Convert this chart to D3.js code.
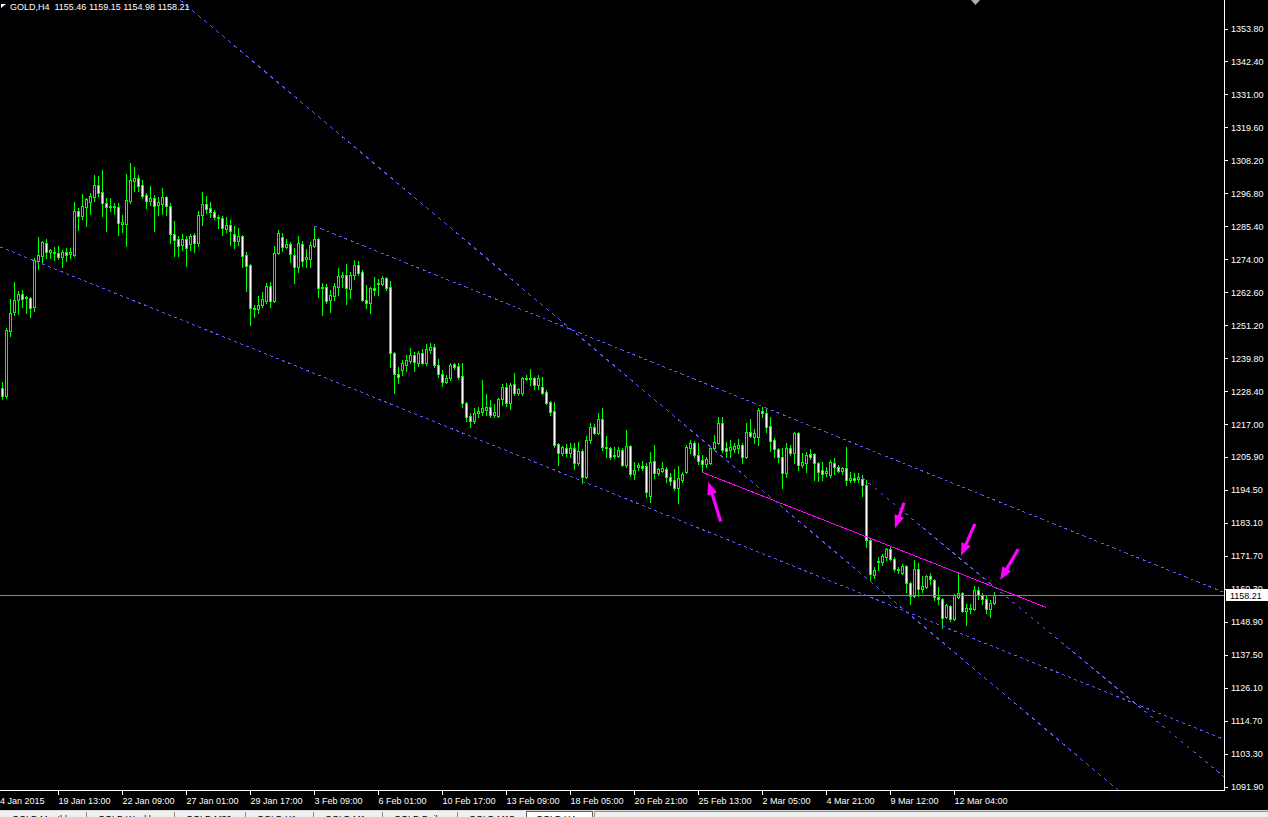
<!DOCTYPE html>
<html><head><meta charset="utf-8">
<script src="https://cdn.jsdelivr.net/npm/d3@7"></script>
<style>
html,body{margin:0;padding:0;background:#000;overflow:hidden}
svg{display:block}
text{font-family:"Liberation Sans",Arial,sans-serif;font-size:9px}
</style></head><body>
<svg id="c" width="1268" height="817"></svg>
<script>
const symbolName = "GOLD,H4";
const open = [1229.8,1227.0,1249.4,1256.0,1260.2,1262.2,1260.9,1260.9,1257.7,1273.6,
1275.4,1279.8,1276.7,1276.7,1276.4,1275.0,1276.7,1276.1,1275.7,1290.9,
1289.2,1292.3,1294.0,1295.8,1299.9,1297.5,1293.7,1292.3,1292.6,1292.3,
1286.4,1286.4,1294.4,1301.3,1302.3,1299.9,1296.4,1294.4,1295.4,1293.0,
1293.3,1295.8,1292.6,1283.0,1281.2,1279.2,1281.2,1279.5,1282.6,1279.9,
1289.5,1293.3,1291.9,1290.5,1288.8,1288.5,1284.7,1286.1,1283.0,1280.5,
1282.3,1275.7,1272.3,1257.4,1257.0,1258.5,1259.8,1265.0,1259.8,1276.4,
1281.9,1278.5,1279.5,1275.7,1271.6,1279.5,1274.3,1274.3,1278.8,1281.2,
1264.3,1264.7,1260.2,1261.5,1264.7,1268.1,1268.8,1264.0,1268.8,1272.3,
1269.8,1260.2,1259.1,1264.3,1265.7,1265.7,1267.8,1264.7,1241.8,1234.6,
1236.0,1237.7,1239.1,1241.2,1238.4,1241.8,1238.4,1242.9,1243.9,1237.7,
1234.6,1231.8,1233.2,1238.0,1237.4,1233.9,1224.6,1220.1,1218.3,1221.1,
1221.5,1222.2,1223.2,1220.4,1220.1,1226.0,1230.1,1224.6,1231.1,1228.0,
1228.0,1233.2,1232.9,1233.2,1230.8,1230.1,1228.4,1224.9,1221.8,1210.4,
1207.3,1209.0,1207.3,1209.0,1203.8,1208.0,1199.0,1211.8,1216.3,1214.2,
1219.0,1209.4,1209.0,1206.3,1206.3,1208.3,1203.1,1209.7,1200.0,1202.5,
1202.8,1202.8,1192.4,1204.5,1200.4,1201.1,1201.8,1199.0,1198.0,1195.2,
1198.0,1200.7,1209.0,1210.8,1206.6,1204.9,1203.5,1203.8,1209.0,1210.8,
1217.7,1209.0,1208.3,1208.7,1209.0,1210.1,1205.9,1214.5,1212.8,1212.8,
1221.8,1221.1,1216.6,1211.8,1208.7,1205.9,1200.4,1209.0,1207.3,1214.2,
1203.1,1203.8,1206.9,1206.9,1203.8,1201.4,1200.4,1199.7,1203.8,1202.5,
1201.1,1202.1,1198.0,1198.7,1198.3,1198.3,1196.2,1177.2,1165.1,1169.6,
1169.6,1171.4,1174.1,1170.7,1167.2,1165.8,1168.2,1162.4,1157.9,1167.2,
1160.3,1161.0,1164.8,1163.4,1157.5,1156.8,1150.6,1154.4,1149.9,1157.5,
1158.9,1152.7,1153.7,1153.4,1160.0,1158.2,1156.8,1153.4,1155.46];
const high = [1231.8,1250.5,1260.5,1266.4,1263.3,1263.6,1261.6,1261.2,1274.7,1281.9,
1280.5,1281.2,1277.8,1278.5,1278.8,1277.4,1278.1,1278.1,1294.0,1291.9,
1296.8,1295.4,1297.1,1303.4,1303.0,1305.1,1295.4,1295.4,1293.7,1293.7,
1289.5,1303.7,1307.5,1306.1,1303.4,1301.6,1297.1,1299.5,1296.4,1295.8,
1298.9,1296.1,1293.7,1287.5,1282.3,1283.0,1282.3,1283.0,1283.3,1290.9,
1297.5,1296.1,1294.0,1291.3,1289.5,1289.2,1288.8,1287.8,1285.7,1285.0,
1282.6,1276.7,1272.6,1258.5,1261.6,1262.9,1266.0,1266.4,1278.8,1284.4,
1283.3,1281.2,1280.2,1278.1,1282.3,1280.5,1277.8,1280.2,1285.7,1281.6,
1266.0,1265.7,1263.6,1266.0,1271.2,1269.8,1272.6,1269.8,1274.0,1273.6,
1270.5,1265.3,1264.7,1268.1,1267.4,1268.5,1268.1,1266.7,1242.2,1237.0,
1239.4,1241.2,1243.6,1242.2,1242.5,1243.2,1244.9,1245.3,1244.9,1239.8,
1236.0,1234.2,1238.4,1238.4,1238.4,1238.4,1224.9,1221.1,1222.8,1223.2,
1232.5,1227.7,1225.6,1224.2,1226.3,1231.1,1231.5,1231.5,1234.9,1229.8,
1233.6,1234.2,1236.3,1233.6,1234.2,1233.6,1229.1,1225.3,1224.9,1210.8,
1209.7,1210.4,1210.8,1210.8,1211.1,1208.7,1213.2,1217.7,1217.3,1221.1,
1222.8,1213.2,1209.4,1209.4,1209.4,1209.0,1215.2,1210.1,1204.2,1203.8,
1204.5,1203.8,1207.7,1210.1,1202.1,1204.2,1202.5,1200.4,1201.8,1202.8,
1200.7,1210.1,1211.8,1211.4,1210.8,1206.6,1205.9,1209.4,1213.5,1219.7,
1219.7,1211.1,1211.8,1210.8,1212.1,1210.8,1217.7,1219.0,1215.6,1222.8,
1223.2,1222.5,1219.7,1212.5,1209.0,1209.0,1210.8,1210.1,1214.5,1214.5,
1207.3,1207.6,1208.7,1207.3,1204.2,1204.2,1202.5,1204.9,1205.6,1203.1,
1202.5,1209.4,1200.7,1200.4,1200.4,1199.7,1198.0,1177.6,1167.9,1171.4,
1172.4,1174.5,1175.2,1171.4,1167.9,1168.9,1168.6,1162.7,1170.3,1169.3,
1164.8,1165.1,1165.8,1163.8,1161.0,1157.2,1155.1,1154.8,1158.6,1165.8,
1159.3,1155.1,1155.1,1161.3,1161.0,1158.9,1157.9,1156.5,1159.15];
const low = [1226.0,1226.3,1247.7,1255.0,1255.3,1257.7,1255.7,1254.3,1256.4,1270.9,
1273.3,1274.7,1274.7,1274.0,1274.3,1271.6,1273.6,1274.7,1275.4,1284.4,
1288.1,1285.7,1289.9,1294.4,1296.1,1289.2,1284.0,1290.9,1289.9,1282.6,
1283.7,1278.8,1293.7,1297.8,1297.8,1295.4,1291.9,1293.0,1284.0,1289.5,
1289.9,1289.5,1279.9,1275.4,1275.4,1277.4,1271.9,1277.4,1276.7,1278.8,
1286.1,1290.2,1288.8,1288.1,1285.0,1282.6,1283.7,1279.2,1278.1,1279.2,
1271.6,1263.3,1251.5,1254.3,1255.7,1257.7,1259.1,1257.7,1259.5,1276.1,
1277.1,1278.1,1273.3,1266.0,1269.8,1271.9,1271.6,1271.6,1278.5,1261.2,
1255.0,1259.1,1256.0,1260.2,1261.9,1264.7,1258.8,1260.9,1267.4,1268.8,
1259.8,1257.4,1255.7,1261.9,1261.9,1265.3,1263.6,1237.0,1228.0,1231.5,
1234.2,1235.6,1238.4,1235.6,1237.4,1238.0,1237.7,1241.8,1237.0,1233.6,
1230.4,1231.5,1232.5,1236.3,1232.9,1223.2,1218.3,1216.3,1217.7,1219.7,
1220.4,1220.4,1219.7,1219.7,1219.7,1223.9,1223.5,1222.5,1227.3,1227.3,
1227.3,1232.5,1230.8,1229.4,1229.4,1227.7,1224.2,1220.4,1209.4,1203.1,
1206.6,1206.3,1205.9,1201.8,1203.1,1196.9,1198.7,1210.7,1213.9,1213.9,
1208.3,1205.9,1205.2,1205.6,1205.9,1202.8,1202.5,1199.3,1198.3,1201.4,
1201.4,1192.1,1190.4,1198.7,1199.7,1200.7,1197.3,1196.2,1194.5,1190.0,
1197.3,1200.4,1207.3,1205.9,1203.5,1200.7,1202.5,1203.5,1208.3,1210.4,
1207.6,1205.9,1205.9,1207.6,1207.3,1203.8,1205.6,1212.8,1210.8,1210.1,
1219.7,1214.5,1208.0,1205.9,1204.2,1195.2,1199.0,1206.6,1203.8,1201.4,
1202.5,1200.7,1205.2,1198.0,1197.6,1198.0,1199.3,1199.0,1200.0,1200.7,
1200.0,1196.2,1197.3,1197.3,1197.3,1192.4,1174.8,1163.4,1164.1,1166.9,
1168.6,1170.3,1170.3,1166.5,1165.8,1165.5,1159.3,1155.1,1157.5,1157.9,
1159.3,1160.6,1162.0,1156.5,1155.1,1146.8,1150.3,1149.2,1149.6,1157.2,
1152.3,1147.9,1152.0,1153.0,1156.8,1155.1,1152.0,1150.6,1154.98];
const close = [1227.0,1249.8,1255.7,1260.2,1262.2,1260.5,1261.2,1257.4,1274.0,1275.7,
1280.2,1276.7,1277.4,1276.4,1275.0,1276.7,1275.7,1276.7,1290.9,1289.2,
1292.6,1295.1,1296.1,1299.9,1297.1,1293.7,1292.3,1292.6,1292.3,1286.8,
1287.1,1294.7,1301.6,1302.3,1299.5,1296.1,1294.4,1295.4,1292.6,1294.0,
1295.8,1292.6,1283.0,1280.9,1278.8,1281.2,1278.1,1282.3,1279.9,1289.5,
1293.3,1291.6,1290.5,1288.8,1288.5,1285.0,1286.1,1284.0,1280.5,1282.3,
1275.4,1271.9,1257.4,1257.0,1258.5,1260.5,1265.0,1259.8,1276.4,1283.3,
1278.5,1279.5,1276.1,1271.6,1279.9,1273.6,1275.0,1279.2,1281.2,1264.3,
1264.7,1259.8,1261.9,1265.0,1268.5,1268.8,1264.3,1268.8,1272.3,1269.5,
1260.2,1259.1,1264.3,1263.6,1266.0,1267.8,1264.3,1241.8,1234.6,1233.6,
1238.4,1239.4,1241.2,1238.7,1241.8,1238.4,1243.2,1243.9,1237.7,1234.6,
1231.8,1233.2,1237.7,1237.0,1233.6,1224.6,1219.7,1218.3,1221.1,1221.8,
1222.8,1223.2,1220.4,1221.5,1226.0,1230.1,1224.6,1230.8,1228.0,1229.4,
1233.2,1232.9,1233.2,1230.8,1233.2,1228.0,1224.6,1221.5,1210.1,1207.3,
1209.4,1207.3,1209.0,1203.8,1208.0,1199.0,1211.8,1216.3,1214.2,1219.0,
1209.4,1209.0,1205.9,1206.6,1208.3,1203.1,1209.7,1200.0,1201.4,1203.1,
1202.1,1193.8,1204.2,1200.4,1201.8,1202.1,1199.0,1197.6,1195.2,1198.7,
1200.0,1209.4,1210.8,1206.6,1204.5,1203.5,1205.2,1209.0,1211.1,1217.7,
1208.3,1208.0,1209.4,1209.7,1210.1,1205.9,1214.5,1213.2,1214.2,1222.2,
1221.1,1216.3,1211.4,1208.7,1205.9,1200.4,1209.0,1207.3,1214.2,1203.1,
1204.2,1206.6,1205.9,1203.8,1200.7,1200.0,1201.1,1204.2,1202.5,1201.1,
1202.1,1198.0,1198.7,1198.0,1199.0,1196.2,1177.2,1165.5,1166.9,1170.0,
1171.7,1174.1,1170.7,1167.2,1166.9,1168.2,1162.4,1157.9,1167.2,1160.3,
1161.3,1164.8,1163.8,1157.5,1156.8,1150.3,1154.8,1149.9,1158.2,1158.9,
1152.7,1153.7,1153.4,1160.0,1158.2,1156.8,1153.4,1155.5,1158.21];

const priceTicks = [1353.8,1342.4,1331.0,1319.6,1308.2,1296.8,1285.4,1274.0,1262.6,1251.2,1239.8,1228.4,
1217.0,1205.9,1194.5,1183.1,1171.7,1160.3,1148.9,1137.5,1126.1,1114.7,1103.3,1091.9];
const timeTickIndex = [14,30,46,62,78,94,110,126,142,158,174,190,206,222,238];
const timeTickLabels = ["19 Jan 13:00","22 Jan 09:00","27 Jan 01:00","29 Jan 17:00","3 Feb 09:00","6 Feb 01:00",
"10 Feb 17:00","13 Feb 09:00","18 Feb 05:00","20 Feb 21:00","25 Feb 13:00","2 Mar 05:00","4 Mar 21:00","9 Mar 12:00","12 Mar 04:00"];
const firstDateLabel = "4 Jan 2015";

// trend lines: [barIndex, price] anchor pairs (rays to the right)
const rayA = [[44.4,1363.8],[278.9,1090.8]];
const rayB = [[78,1285.7],[304.9,1159.4]];
const rayC = [[-0.6,1278.5],[304.9,1108.6]];
const rayE = [[215,1198.7],[304.9,1096.0]];
const magentaSegment = [[175,1200.6],[260.8,1154.0]];
// arrows: [tail, tip]
const arrows = [
  [[179.55,1183.6],[176.45,1197.4]],
  [[225.4,1190.1],[223.1,1181.3]],
  [[243.1,1182.8],[239.6,1171.7]],
  [[253.95,1174.1],[249.4,1163.4]]
];
const tabNames = ["GOLD,Monthly","GOLD,Weekly","GOLD,M30","GOLD,H1","GOLD,M1","GOLD,Daily","GOLD,M15","GOLD,H4"];

const W = 1268, H = 817, plotR = 1224, plotB = 790;
const svg = d3.select("#c");
svg.append("rect").attr("width", W).attr("height", H).attr("fill", "#000");

const x = d3.scaleLinear().domain([0, 305.5]).range([2.5, 1224.5]);
const y = d3.scaleLinear().domain([1091.9, 1353.8]).range([787, 29]);

svg.append("defs").append("clipPath").attr("id", "clip")
  .append("rect").attr("x", 0).attr("y", 0).attr("width", plotR).attr("height", plotB);
const plot = svg.append("g").attr("clip-path", "url(#clip)");

// candles
const bars = open.map((o, i) => ({ i, o, h: high[i], l: low[i], c: close[i] }));
const cg = plot.append("g").attr("shape-rendering", "crispEdges")
  .selectAll("g").data(bars).join("g");
const cx = d => Math.floor(x(d.i));
const bTop = d => Math.round(y(Math.max(d.o, d.c)));
const bBot = d => Math.round(y(Math.min(d.o, d.c)));
cg.append("rect").attr("x", cx).attr("width", 1)
  .attr("y", d => Math.round(y(d.h)))
  .attr("height", d => Math.round(y(d.l)) - Math.round(y(d.h)) + 1)
  .attr("fill", "#00ff00");
cg.append("rect").attr("x", d => cx(d) - 1).attr("width", 3)
  .attr("y", bTop).attr("height", d => bBot(d) - bTop(d) + 1)
  .attr("fill", "#00ff00");
cg.filter(d => bBot(d) - bTop(d) + 1 >= 3).append("rect")
  .attr("x", cx).attr("width", 1)
  .attr("y", d => bTop(d) + 1).attr("height", d => bBot(d) - bTop(d) - 1)
  .attr("fill", d => d.c >= d.o ? "#000000" : "#ffffff");

// trend rays
function drawRay(pts, color) {
  const [p1, p2] = pts;
  const slope = (p2[1] - p1[1]) / (p2[0] - p1[0]);
  const iEnd = 306;
  const x1 = x(p1[0]), y1 = y(p1[1]), x2 = x(iEnd), y2 = y(p1[1] + slope * (iEnd - p1[0]));
  const s = (y2 - y1) / (x2 - x1);
  const d = 3 * Math.sqrt(1 + s * s);
  plot.append("line").attr("x1", x1).attr("y1", y1).attr("x2", x2).attr("y2", y2)
    .attr("stroke", color).attr("stroke-width", 1).attr("stroke-dasharray", d + "," + d)
    .attr("shape-rendering", "crispEdges");
}
[rayA, rayB, rayC, rayE].forEach(r => drawRay(r, "#5b5bf0"));

// bid line
const last = close[close.length - 1];
const bidY = Math.round(y(last)) + 0.5;
plot.append("line").attr("x1", 0).attr("x2", plotR).attr("y1", bidY).attr("y2", bidY)
  .attr("stroke", "#778899").attr("stroke-width", 1);

// magenta segment
plot.append("line")
  .attr("x1", x(magentaSegment[0][0])).attr("y1", y(magentaSegment[0][1]))
  .attr("x2", x(magentaSegment[1][0])).attr("y2", y(magentaSegment[1][1]))
  .attr("stroke", "#ff00ff").attr("stroke-width", 1).attr("shape-rendering", "crispEdges");

// arrows
arrows.forEach(([tail, tip]) => {
  const tx = x(tail[0]), ty = y(tail[1]), px = x(tip[0]), py = y(tip[1]);
  const len = Math.hypot(px - tx, py - ty);
  const ux = (px - tx) / len, uy = (py - ty) / len, nx = -uy, ny = ux;
  const hl = 13, hw = 5, sw = 1.6;
  const bx = px - ux * hl, by = py - uy * hl;
  const pts = [
    [tx + nx * sw, ty + ny * sw], [bx + nx * sw, by + ny * sw], [bx + nx * hw, by + ny * hw],
    [px, py], [bx - nx * hw, by - ny * hw], [bx - nx * sw, by - ny * sw], [tx - nx * sw, ty - ny * sw]
  ];
  plot.append("polygon").attr("points", pts.map(p => p.join(",")).join(" ")).attr("fill", "#ff00ff");
});

// frame
svg.append("line").attr("x1", 0).attr("x2", plotR + 1).attr("y1", plotB + 0.5).attr("y2", plotB + 0.5).attr("stroke", "#fff");
svg.append("line").attr("x1", plotR + 0.5).attr("x2", plotR + 0.5).attr("y1", 0).attr("y2", plotB + 1).attr("stroke", "#fff");

// price axis
const ya = svg.append("g").attr("transform", `translate(${plotR + 1},0)`)
  .call(d3.axisRight(y).tickValues(priceTicks).tickSize(3).tickPadding(3).offset(0).tickFormat(d => d.toFixed(2)));
ya.select(".domain").remove();
ya.selectAll("line").attr("stroke", "#fff").attr("shape-rendering", "crispEdges");
ya.selectAll("text").attr("fill", "#fff").attr("font-family", "Liberation Sans, Arial, sans-serif").attr("font-size", 9);

// time axis
const xa = svg.append("g").attr("transform", `translate(0,${plotB + 1})`)
  .call(d3.axisBottom(x).tickValues(timeTickIndex).tickSize(4).tickPadding(3).offset(0)
    .tickFormat((d, k) => timeTickLabels[k]));
xa.select(".domain").remove();
xa.selectAll("line").attr("stroke", "#fff").attr("shape-rendering", "crispEdges");
xa.selectAll("text").attr("fill", "#fff").attr("text-anchor", "start")
  .attr("font-family", "Liberation Sans, Arial, sans-serif").attr("font-size", 9);
svg.append("text").attr("x", 0).attr("y", 804).attr("fill", "#fff").text(firstDateLabel);

// bid price box
svg.append("rect").attr("x", plotR + 2).attr("y", bidY - 6.5).attr("width", W - plotR - 2).attr("height", 12).attr("fill", "#fff");
svg.append("text").attr("x", plotR + 6).attr("y", bidY + 3.5).attr("fill", "#000").text(last.toFixed(2));

// title
svg.append("polygon").attr("points", "1,4 6,4 1,8").attr("fill", "#fff");
svg.append("text").attr("x", 10).attr("y", 9.5).attr("fill", "#fff").style("white-space", "pre")
  .text(`${symbolName}  ${open[open.length-1].toFixed(2)} ${high[high.length-1].toFixed(2)} ${low[low.length-1].toFixed(2)} ${last.toFixed(2)}`);
// chart shift marker
svg.append("polygon").attr("points", "971,0 980,0 975.5,5").attr("fill", "#b0b0b0");

// tabs strip
svg.append("rect").attr("x", 0).attr("y", 810).attr("width", W).attr("height", 7).attr("fill", "#f0f0f0");
svg.append("line").attr("x1", 0).attr("x2", W).attr("y1", 810.5).attr("y2", 810.5).attr("stroke", "#d8d8d8");
const tabEdges = [0, 86, 174, 245, 313, 382, 457, 524, 592];
tabNames.forEach((t, k) => {
  const x0 = tabEdges[k], x1 = tabEdges[k + 1];
  if (k === tabNames.length - 1) {
    svg.append("rect").attr("x", x0 + 2.5).attr("y", 811.5).attr("width", x1 - x0 - 2).attr("height", 8)
      .attr("fill", "#fff").attr("stroke", "#606060");
  } else if (k > 0) {
    svg.append("line").attr("x1", x0 + 0.5).attr("x2", x0 + 0.5).attr("y1", 812).attr("y2", 817).attr("stroke", "#909090");
  }
  svg.append("text").attr("x", x0 + 12).attr("y", 821.5).attr("fill", "#000").text(t);
});
svg.append("rect").attr("x", 594.5).attr("y", 811.5).attr("width", 680).attr("height", 8).attr("fill", "none").attr("stroke", "#909090");
</script>
</body></html>
